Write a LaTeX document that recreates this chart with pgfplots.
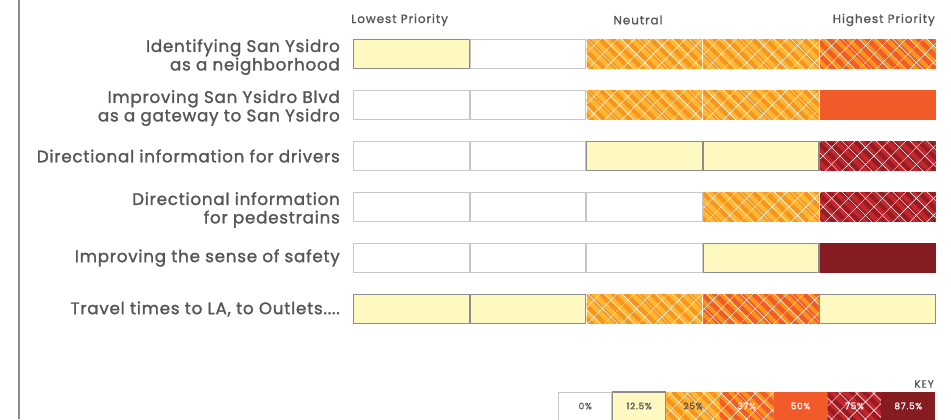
\documentclass[border=0pt]{standalone}
\usepackage{pgfplots}
\pgfplotsset{compat=1.18}
\usetikzlibrary{patterns.meta}
\usepackage{fontspec}
\setmainfont{Poppins}
\newfontfamily\labfont{Poppins}[FakeBold=1.5, LetterSpace=4.5]
\newfontfamily\hdfont{Poppins}[FakeBold=1.2, LetterSpace=8]
\newcommand{\fourdots}{....}
\newsavebox{\twobox}
\newcommand{\two}[2]{\sbox{\twobox}{\begin{tabular}{@{}r@{}}#1\\#2\end{tabular}}\raisebox{-3.5bp}[\ht\twobox][\dp\twobox]{\usebox{\twobox}}}
\definecolor{txt}{HTML}{555659}
\definecolor{yel}{HTML}{FFF8C0}
\definecolor{orA}{HTML}{FDB735}
\definecolor{orB}{HTML}{F7941E}
\definecolor{rdA}{HTML}{F15A29}
\definecolor{rdB}{HTML}{F15A29}
\definecolor{drA}{HTML}{C1272D}
\definecolor{drB}{HTML}{961B22}
\definecolor{drC}{HTML}{851C22}
\tikzset{
 s0/.style={fill=white, draw=black!22, line width=1bp},
 s12.5/.style={fill=yel, draw=black!45, line width=1.2bp},
 s25/.style={fill=orA, draw=none,
   postaction={pattern={Lines[angle=-45,distance=9bp,line width=4bp]}, pattern color=orB},
   postaction={pattern={Hatch[angle=45,distance=12bp,line width=0.45bp]}, pattern color=white, fill opacity=0.5}},
 s37/.style={fill=orB, draw=none,
   postaction={pattern={Lines[angle=-45,distance=9bp,line width=4.5bp]}, pattern color=rdA},
   postaction={pattern={Hatch[angle=45,distance=12bp,line width=0.45bp]}, pattern color=white, fill opacity=0.5}},
 s50/.style={fill=rdB, draw=none},
 s75/.style={fill=drA, draw=none,
   postaction={pattern={Lines[angle=-45,distance=9bp,line width=4bp]}, pattern color=drB},
   postaction={pattern={Hatch[angle=45,distance=12bp,line width=0.45bp]}, pattern color=white, fill opacity=0.5}},
 s87.5/.style={fill=drC, draw=none},
}
% \cell{column}{row}{percent}
\newcommand{\cell}[3]{%
 \pgfmathsetmacro\xa{#1-1+0.004}\pgfmathsetmacro\xb{#1-0.004}%
 \pgfmathsetmacro\ya{#2-0.285}\pgfmathsetmacro\yb{#2+0.285}%
 \edef\tmp{\noexpand\addplot[s#3] coordinates {(\xa,\ya) (\xb,\ya) (\xb,\yb) (\xa,\yb)} -- cycle;}\tmp}
\begin{document}
\begin{tikzpicture}[x=1bp,y=1bp]
\useasboundingbox (0,0) rectangle (951,419);
\draw[black!45, line width=2bp] (19,0) -- (19,419);
\begin{axis}[at={(353bp,390.5bp)}, anchor=north west, scale only axis,
  width=583bp, height=306bp, xmin=0, xmax=5, ymin=0.5, ymax=6.5, y dir=reverse,
  axis line style={draw=none}, tick style={draw=none}, xtick=\empty,
  ytick={1,2,3,4,5,6},
  yticklabels={{\two{Identifying San Ysidro}{as a neighborhood}},
    {\two{Improving San Ysidro Blvd}{as a gateway to San Ysidro}},
    {Directional information for drivers},
    {\two{Directional information}{for pedestrains}},
    {Improving the sense of safety},
    {Travel times to LA, to Outlets\fourdots}},
  yticklabel style={align=right, inner sep=0pt, xshift=-13bp, text=txt,
    font=\labfont\fontsize{16.8}{18.5}\selectfont},
  clip=false]
% row 1
\cell{1}{1}{12.5}\cell{2}{1}{0}\cell{3}{1}{25}\cell{4}{1}{25}\cell{5}{1}{37}
% row 2
\cell{1}{2}{0}\cell{2}{2}{0}\cell{3}{2}{25}\cell{4}{2}{25}\cell{5}{2}{50}
% row 3
\cell{1}{3}{0}\cell{2}{3}{0}\cell{3}{3}{12.5}\cell{4}{3}{12.5}\cell{5}{3}{75}
% row 4
\cell{1}{4}{0}\cell{2}{4}{0}\cell{3}{4}{0}\cell{4}{4}{25}\cell{5}{4}{75}
% row 5
\cell{1}{5}{0}\cell{2}{5}{0}\cell{3}{5}{0}\cell{4}{5}{12.5}\cell{5}{5}{87.5}
% row 6
\cell{1}{6}{12.5}\cell{2}{6}{12.5}\cell{3}{6}{25}\cell{4}{6}{37}\cell{5}{6}{12.5}
\end{axis}
% headers
\begin{scope}[every node/.style={text=txt, font=\hdfont\fontsize{12}{13}\selectfont, inner sep=0pt}]
\node[anchor=west] at (351,399) {Lowest Priority};
\node at (638,399) {Neutral};
\node[anchor=east] at (935,399) {Highest Priority};
\end{scope}
% key
\node[anchor=east, inner sep=0pt, text=txt, font=\hdfont\fontsize{10.5}{12}\selectfont] at (934,35) {KEY};
\begin{scope}[every node/.style={inner sep=0pt, font=\hdfont\fontsize{9}{10}\selectfont}]
\path[s0] (558.5,-5) rectangle (611.9,27);
\node[text=txt] at (585.2,13) {0\%};
\path[s12.5] (612.4,-5) rectangle (665.8,27);
\node[text=txt] at (639.1,13) {12.5\%};
\path[s25] (666.3,-5) rectangle (719.7,27);
\node[text=txt] at (693,13) {25\%};
\path[s37] (719.7,-5) rectangle (773.6,27);
\node[text=white] at (746.6,13) {37\%};
\path[s50] (773.6,-5) rectangle (827.5,27);
\node[text=white] at (800.5,13) {50\%};
\path[s75] (827.5,-5) rectangle (881.4,27);
\node[text=white] at (854.4,13) {75\%};
\path[s87.5] (881.4,-5) rectangle (935.3,27);
\node[text=white] at (908.3,13) {87.5\%};
\end{scope}
\end{tikzpicture}
\end{document}
